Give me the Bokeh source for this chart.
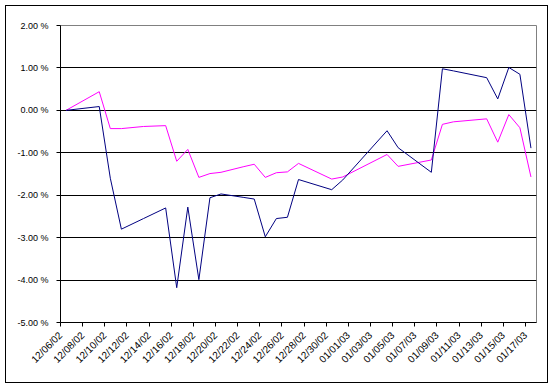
import math
from datetime import date
from bokeh.plotting import figure
from bokeh.layouts import column
from bokeh.models import FixedTicker, ColumnDataSource, Range1d
from bokeh.embed import file_html
from bokeh.resources import INLINE

# ---- data ----
dates = ["12/06/02", "12/09/02", "12/10/02", "12/11/02", "12/13/02", "12/15/02",
         "12/16/02", "12/17/02", "12/18/02", "12/19/02", "12/20/02", "12/22/02",
         "12/23/02", "12/24/02", "12/25/02", "12/26/02", "12/27/02", "12/30/02",
         "12/31/02", "01/04/03", "01/05/03", "01/08/03", "01/09/03", "01/10/03",
         "01/13/03", "01/14/03", "01/15/03", "01/16/03", "01/17/03"]
series_blue = [0.00, 0.09, -1.60, -2.80, -2.55, -2.30,
               -4.18, -2.28, -3.99, -2.06, -1.97, -2.05,
               -2.09, -2.98, -2.55, -2.52, -1.63, -1.87,
               -1.64, -0.48, -0.88, -1.46, 0.98, 0.93,
               0.77, 0.27, 1.01, 0.85, -0.89]
series_pink = [0.00, 0.44, -0.43, -0.43, -0.38, -0.36,
               -1.20, -0.92, -1.58, -1.49, -1.46, -1.33,
               -1.27, -1.58, -1.47, -1.45, -1.25, -1.62,
               -1.57, -1.04, -1.32, -1.17, -0.33, -0.27,
               -0.20, -0.75, -0.10, -0.41, -1.57]
x_tick_labels = ["12/06/02", "12/08/02", "12/10/02", "12/12/02", "12/14/02", "12/16/02",
                 "12/18/02", "12/20/02", "12/22/02", "12/24/02", "12/26/02", "12/28/02",
                 "12/30/02", "01/01/03", "01/03/03", "01/05/03", "01/07/03", "01/09/03",
                 "01/11/03", "01/13/03", "01/15/03", "01/17/03"]
y_ticks = [-5, -4, -3, -2, -1, 0, 1, 2]
y_tick_labels = ["-5.00 %", "-4.00 %", "-3.00 %", "-2.00 %", "-1.00 %", "0.00 %", "1.00 %", "2.00 %"]


def parse(s):
    m, d, y = s.split("/")
    return date(2000 + int(y), int(m), int(d))


start = parse(dates[0])
# each day occupies one unit; a point sits in the middle of its day
xs = [(parse(s) - start).days + 0.5 for s in dates]
x_ticks = [(parse(s) - start).days for s in x_tick_labels]
n_days = (parse(dates[-1]) - start).days + 1

src = ColumnDataSource(dict(x=xs, blue=series_blue, pink=series_pink))

FONT = "Liberation Sans"

p = figure(frame_width=476, frame_height=297,
           min_border_left=54, min_border_right=11, min_border_top=19, min_border_bottom=60,
           x_range=Range1d(0, n_days), y_range=Range1d(-5, 2),
           output_backend="svg", toolbar_location=None,
           background_fill_color="white", border_fill_color="white")

p.line("x", "pink", source=src, line_color="#FF00FF", line_width=1)
p.line("x", "blue", source=src, line_color="#000080", line_width=1)

p.outline_line_color = "#808080"
p.outline_line_width = 1

p.xgrid.visible = False
p.ygrid.ticker = FixedTicker(ticks=[-4, -3, -2, -1, 0, 1])
p.ygrid.grid_line_color = "black"
p.ygrid.grid_line_width = 1

p.yaxis.ticker = FixedTicker(ticks=y_ticks)
p.yaxis.major_label_overrides = {t: l for t, l in zip(y_ticks, y_tick_labels)}
p.xaxis.ticker = FixedTicker(ticks=x_ticks)
p.xaxis.major_label_overrides = {t: l for t, l in zip(x_ticks, x_tick_labels)}
p.xaxis.major_label_orientation = math.pi / 4

for ax in (p.xaxis[0], p.yaxis[0]):
    ax.axis_line_color = "black"
    ax.axis_line_width = 1
    ax.major_tick_line_color = "black"
    ax.major_tick_out = 4
    ax.major_tick_in = 0
    ax.minor_tick_line_color = None
    ax.major_label_text_font = FONT
    ax.major_label_text_color = "black"
p.yaxis.major_label_text_font_size = "9px"
p.xaxis.major_label_text_font_size = "10px"
p.yaxis.major_label_standoff = 8
p.xaxis.major_label_standoff = 7

layout = column(p, styles={"border": "1px solid black", "margin": "5px"})

open("out.html", "w").write(file_html(layout, INLINE))
